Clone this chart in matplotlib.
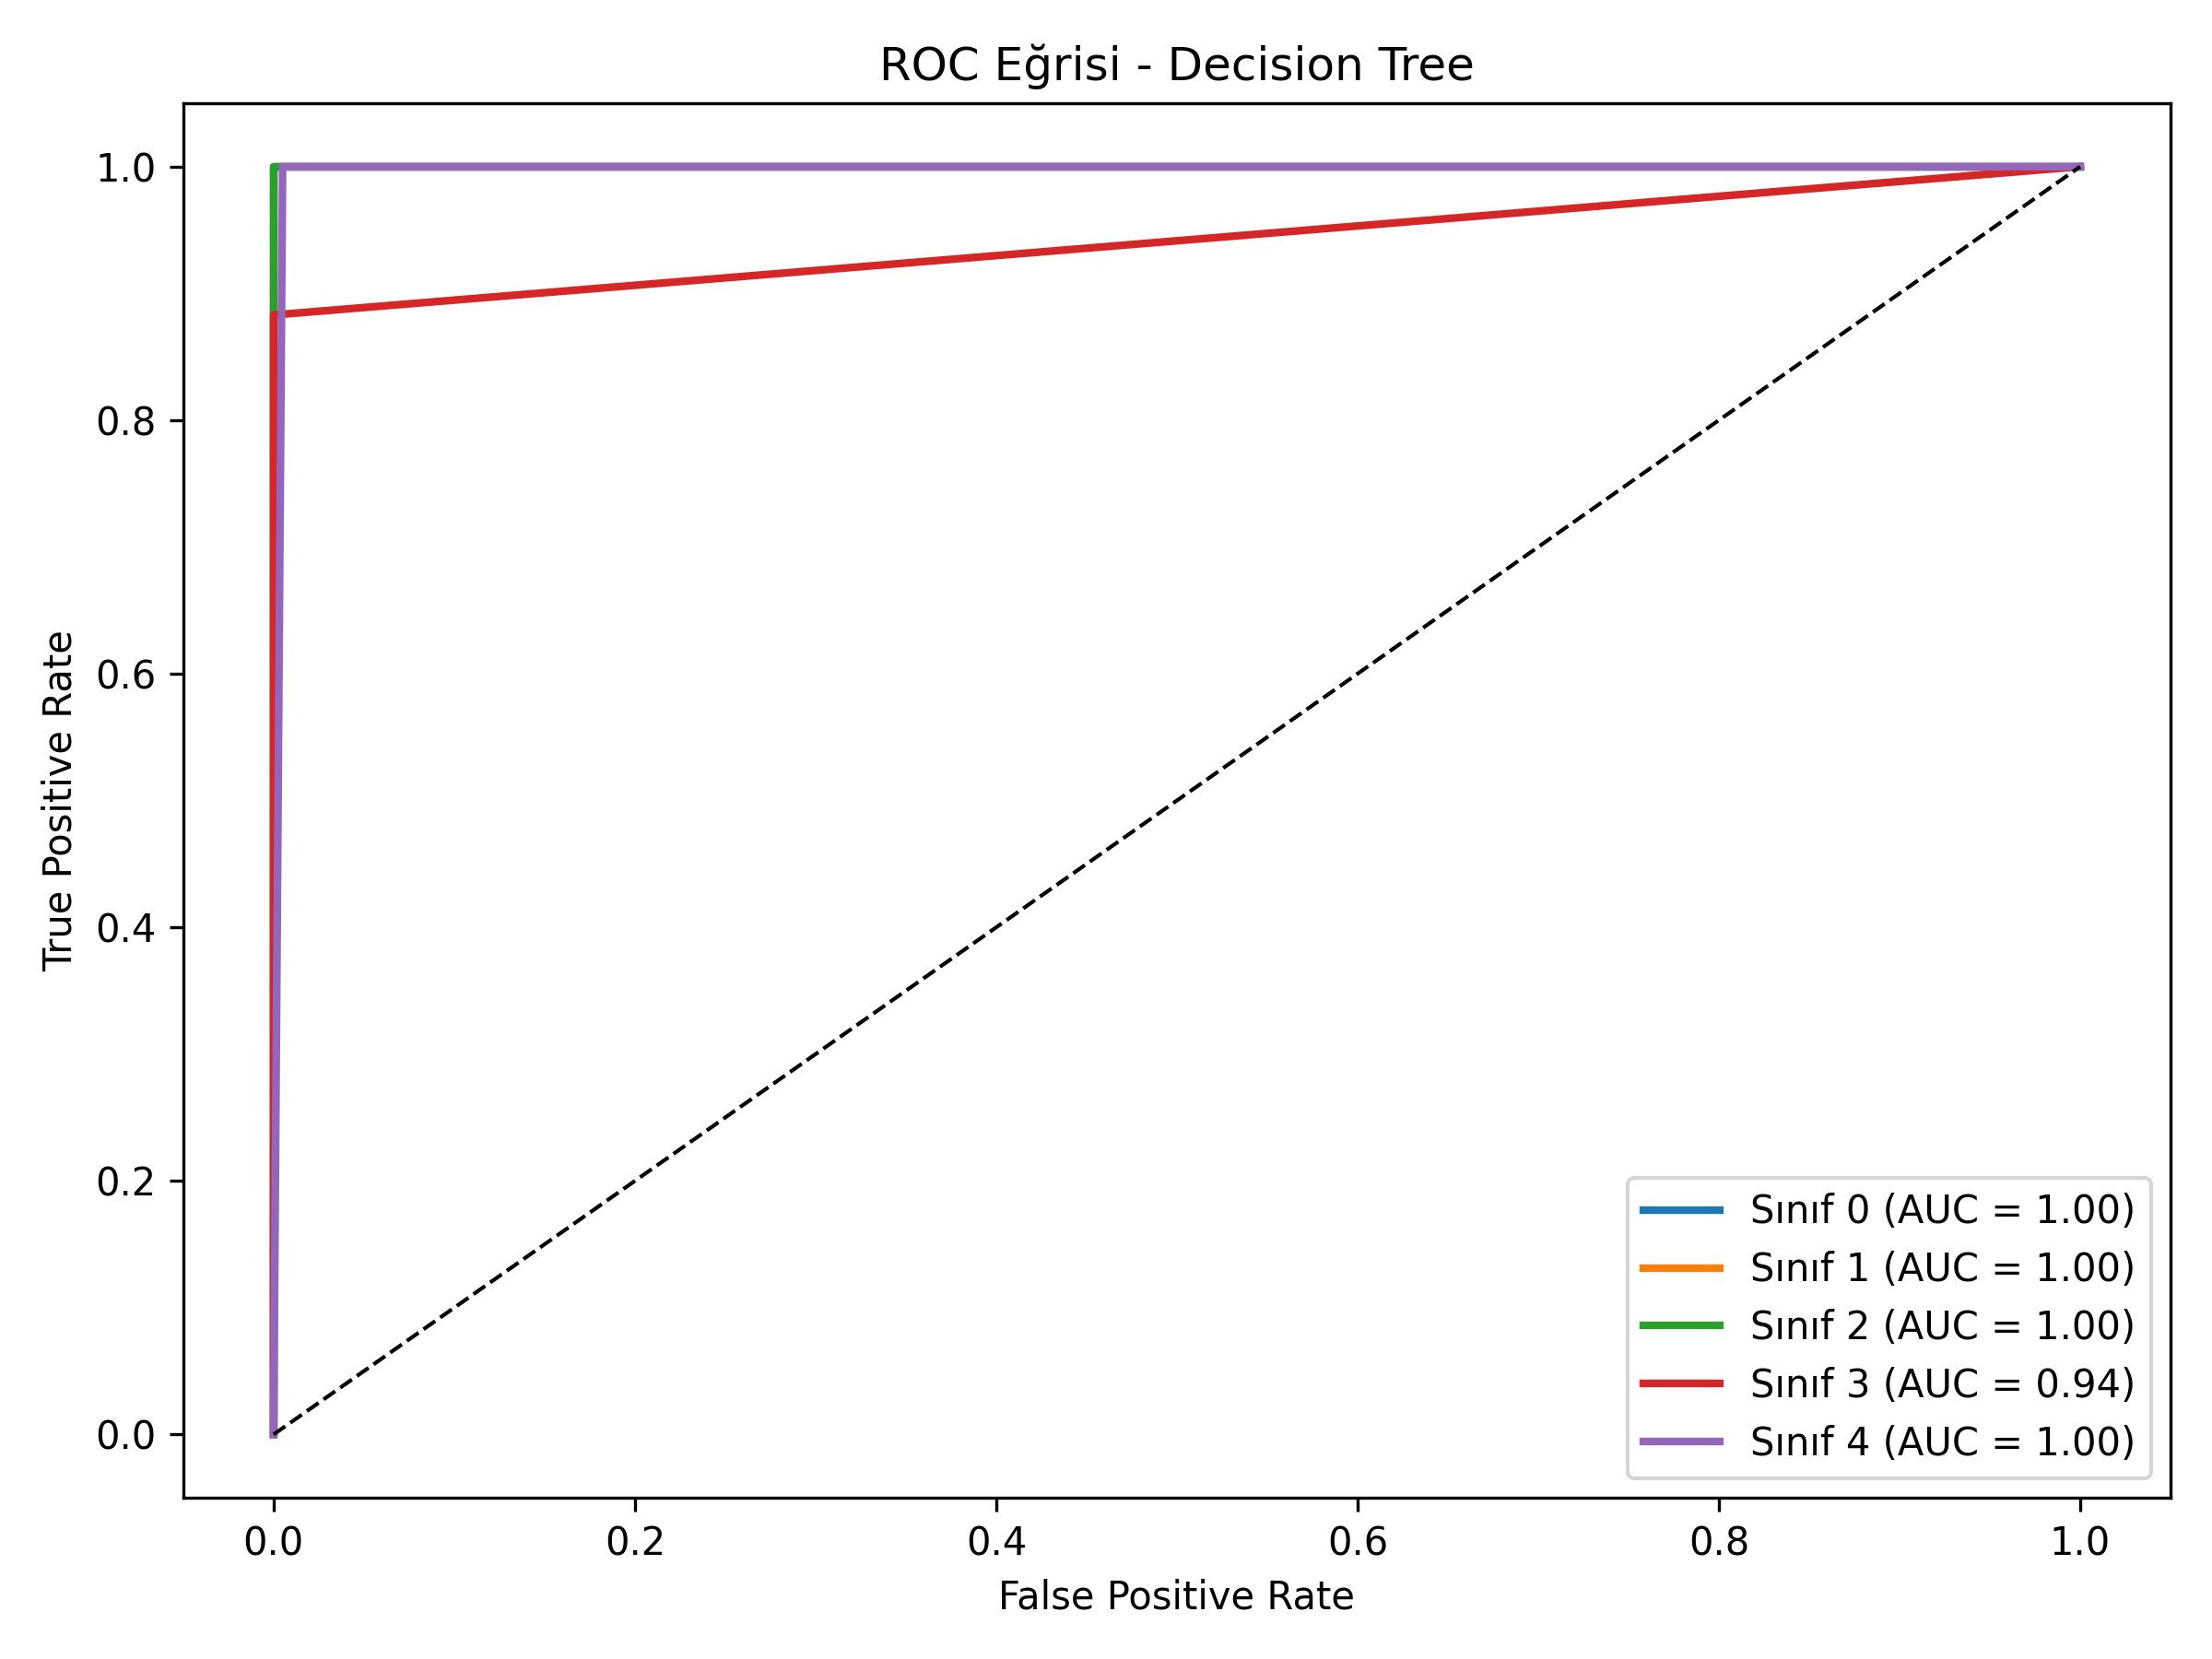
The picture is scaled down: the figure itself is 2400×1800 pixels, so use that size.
import matplotlib
matplotlib.use('Agg')
import matplotlib.pyplot as plt

# ROC points per class (fpr, tpr)
class_names = ['Sınıf 0', 'Sınıf 1', 'Sınıf 2', 'Sınıf 3', 'Sınıf 4']
fpr_list = [
    [0.0, 0.0, 1.0],
    [0.0, 0.0, 1.0],
    [0.0, 0.0, 1.0],
    [0.0, 0.0, 1.0],
    [0.0, 0.005, 1.0],
]
tpr_list = [
    [0.0, 1.0, 1.0],
    [0.0, 1.0, 1.0],
    [0.0, 1.0, 1.0],
    [0.0, 0.883, 1.0],
    [0.0, 1.0, 1.0],
]
auc_list = [1.00, 1.00, 1.00, 0.94, 1.00]

plt.figure(figsize=(8, 6))
for name, fpr, tpr, auc in zip(class_names, fpr_list, tpr_list, auc_list):
    plt.plot(fpr, tpr, lw=2, label=f'{name} (AUC = {auc:.2f})')
plt.plot([0, 1], [0, 1], 'k--', lw=1)
plt.title('ROC Eğrisi - Decision Tree')
plt.xlabel('False Positive Rate')
plt.ylabel('True Positive Rate')
plt.legend(loc='lower right')
plt.tight_layout()
plt.savefig('out.png', dpi=300)
